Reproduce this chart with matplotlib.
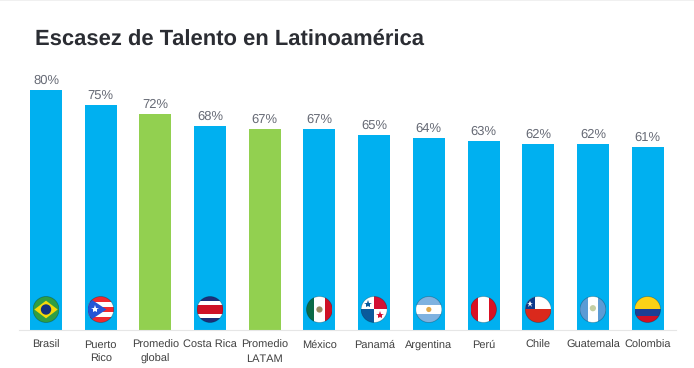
import matplotlib
matplotlib.use('Agg')
import matplotlib.pyplot as plt
from matplotlib.patches import Circle, Polygon, Rectangle

plt.rcParams['font.family'] = ['Liberation Sans', 'DejaVu Sans']
plt.rcParams['text.hinting'] = 'no_hinting'
plt.rcParams['text.hinting_factor'] = 1

paises = ['Brasil', 'Puerto\nRico', 'Promedio\nglobal', 'Costa Rica', 'Promedio\nLATAM', 'México',
          'Panamá', 'Argentina', 'Perú', 'Chile', 'Guatemala', 'Colombia']
valores = [80, 75, 72, 68, 67, 67, 65, 64, 63, 62, 62, 61]
promedios = ['Promedio\nglobal', 'Promedio\nLATAM']

AZUL = '#00b0f0'
VERDE = '#92d050'
W, H = 694, 368


def franjas_h(fa, colores, pesos=None):
    # horizontal stripes, listed from top to bottom
    pesos = pesos or [1] * len(colores)
    total = sum(pesos)
    y = 1
    for c, p in zip(colores, pesos):
        y -= p / total
        fa.add_patch(Rectangle((0, y), 1, p / total, color=c, lw=0))


def franjas_v(fa, colores, pesos=None):
    pesos = pesos or [1] * len(colores)
    total = sum(pesos)
    x = 0
    for c, p in zip(colores, pesos):
        fa.add_patch(Rectangle((x, 0), p / total, 1, color=c, lw=0))
        x += p / total


def brasil(fa):
    franjas_h(fa, ['#2f9e44'])
    fa.add_patch(Polygon([(0.05, 0.5), (0.5, 0.84), (0.95, 0.5), (0.5, 0.16)], color='#f5d90a', lw=0))
    fa.add_patch(Circle((0.5, 0.5), 0.2, color='#14307f', lw=0))


def puerto_rico(fa):
    franjas_h(fa, ['#ee2a30', 'white', '#ee2a30', 'white', '#ee2a30'])
    fa.add_patch(Polygon([(0, 0.02), (0, 0.98), (0.72, 0.5)], color='#2455d6', lw=0))
    fa.plot([0.27], [0.5], marker='*', ms=6, color='white', mew=0)


def costa_rica(fa):
    franjas_h(fa, ['#1c2f7a', 'white', '#ce1126', 'white', '#1c2f7a'], [1, 1, 2.4, 1, 1])


def mexico(fa):
    franjas_v(fa, ['#0b6b47', 'white', '#ce1126'], [3, 4, 3])
    fa.add_patch(Circle((0.5, 0.5), 0.12, color='#9a8a60', lw=0))


def panama(fa):
    fa.add_patch(Rectangle((0, 0.5), 0.5, 0.5, color='white', lw=0))
    fa.add_patch(Rectangle((0.5, 0.5), 0.5, 0.5, color='#d21034', lw=0))
    fa.add_patch(Rectangle((0, 0), 0.5, 0.5, color='#0a5a9c', lw=0))
    fa.add_patch(Rectangle((0.5, 0), 0.5, 0.5, color='white', lw=0))
    fa.plot([0.28], [0.7], marker='*', ms=6, color='#0a5a9c', mew=0)
    fa.plot([0.72], [0.3], marker='*', ms=6, color='#d21034', mew=0)


def argentina(fa):
    franjas_h(fa, ['#7fb2e0', 'white', '#7fb2e0'])
    fa.add_patch(Circle((0.5, 0.5), 0.1, color='#e0a84a', lw=0))


def peru(fa):
    franjas_v(fa, ['#d91023', 'white', '#d91023'], [3, 4, 3])


def chile(fa):
    franjas_h(fa, ['white', '#da291c'])
    fa.add_patch(Rectangle((0, 0.5), 0.36, 0.5, color='#0b3a8c', lw=0))
    fa.plot([0.19], [0.72], marker='*', ms=5, color='white', mew=0)


def guatemala(fa):
    franjas_v(fa, ['#5b9bd5', 'white', '#5b9bd5'], [3, 4, 3])
    fa.add_patch(Circle((0.5, 0.55), 0.12, color='#c4cfa4', lw=0))


def colombia(fa):
    franjas_h(fa, ['#fcd116', '#1c3f94', '#ce1126'], [2, 1, 1])


banderas = {'Brasil': brasil, 'Puerto\nRico': puerto_rico, 'Costa Rica': costa_rica, 'México': mexico,
            'Panamá': panama, 'Argentina': argentina, 'Perú': peru, 'Chile': chile,
            'Guatemala': guatemala, 'Colombia': colombia}

fig = plt.figure(figsize=(W / 100, H / 100), dpi=100)
ax = fig.add_axes([19 / W, (H - 330) / H, (676 - 19) / W, 270 / H])

colores = [VERDE if p in promedios else AZUL for p in paises]
x = range(len(paises))
ax.bar(x, valores, width=0.585, color=colores)
for i, v in zip(x, valores):
    ax.text(i, v + 1, f'{v}%', ha='center', va='bottom', fontsize=9.5, color='#666a75')

ax.set_xlim(-0.494, 11.52)
ax.set_ylim(0, 90)
ax.set_xticks(list(x))
ax.set_xticklabels(paises, fontsize=8.15, color='#404040', linespacing=1.36)
ax.tick_params(axis='x', length=0, pad=7.5)
ax.set_yticks([])
for lado in ['top', 'right', 'left']:
    ax.spines[lado].set_visible(False)
ax.spines['bottom'].set_color('#e6e6e6')

# flags sit on the bars, clipped to a circle
for i, p in enumerate(paises):
    if p not in banderas:
        continue
    fa = ax.inset_axes([i - 0.2377, 6.83 - 4.33, 0.4754, 8.67], transform=ax.transData)
    fa.set_xlim(0, 1)
    fa.set_ylim(0, 1)
    fa.axis('off')
    banderas[p](fa)
    recorte = Circle((0.5, 0.5), 0.5, transform=fa.transAxes)
    for obj in fa.patches + fa.lines:
        obj.set_clip_path(recorte)
    fa.add_patch(Circle((0.5, 0.5), 0.5, fill=False, ec='#00000040', lw=0.6))

fig.add_artist(Rectangle((0, 1 - 1 / H), 1, 1 / H, transform=fig.transFigure, color='#f0f0f0', lw=0))
fig.text(35 / W, 1 - 45 / H, 'Escasez de Talento en Latinoamérica', fontsize=15.85, fontweight='bold',
         color='#2b2d33', va='baseline')

fig.savefig('out.png', dpi=100)
